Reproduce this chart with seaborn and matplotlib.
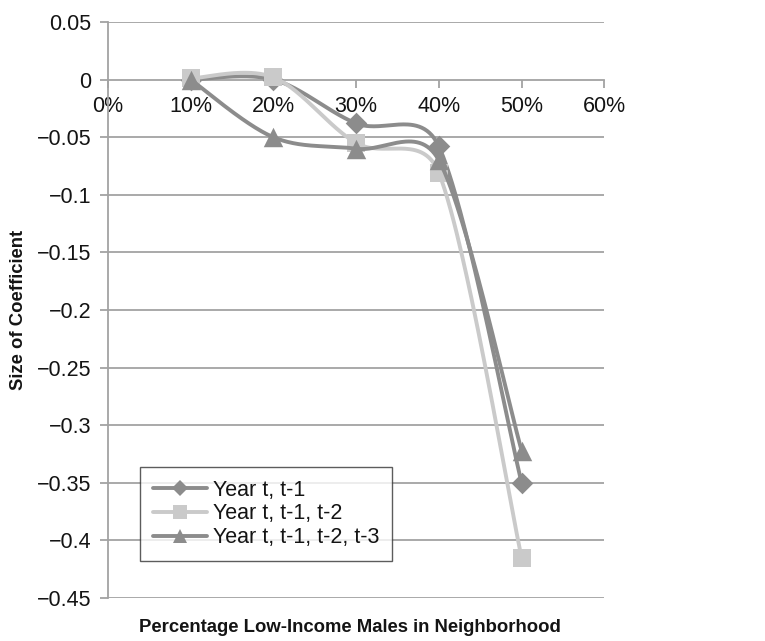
import numpy as np
import pandas as pd
import matplotlib
matplotlib.use("Agg")
import matplotlib.pyplot as plt
from matplotlib.lines import Line2D
from matplotlib.ticker import FuncFormatter
import seaborn as sns

# Share of low-income males in the neighbourhood
pct = [0.10, 0.20, 0.30, 0.40, 0.50]
# Coefficient estimates per lag specification
year_t1 = [0.000, 0.000, -0.038, -0.058, -0.350]
year_t12 = [0.001, 0.002, -0.055, -0.081, -0.415]
year_t123 = [0.000, -0.050, -0.060, -0.070, -0.322]
series_names = ["Year t, t-1", "Year t, t-1, t-2", "Year t, t-1, t-2, t-3"]
x_ticks = [0.0, 0.1, 0.2, 0.3, 0.4, 0.5, 0.6]
y_ticks = [0.05, 0.0, -0.05, -0.1, -0.15, -0.2, -0.25, -0.3, -0.35, -0.4, -0.45]

DARK = "#8c8c8c"
LIGHT = "#cacaca"
GRID = "#a3a3a3"
TEXT = "#141414"

XLIM = (0.0, 0.6)
YLIM = (-0.45, 0.05)


def smooth(xs, ys, kx, ky, n=60):
    """Spreadsheet-style smoothed line, built in screen units.

    Each segment is a cubic Bezier whose control arms are one sixth of the
    neighbour chord, capped at half the segment length.
    """
    P = np.column_stack([np.asarray(xs, float) * kx, np.asarray(ys, float) * ky])
    t = np.linspace(0, 1, n)[:, None]
    out = []
    m = len(P)
    for i in range(m - 1):
        p0 = P[i - 1] if i > 0 else P[i]
        p1, p2 = P[i], P[i + 1]
        p3 = P[i + 2] if i + 2 < m else P[i + 1]
        half = np.linalg.norm(p2 - p1) / 2.0
        a = (p2 - p0) / 6.0
        b = (p3 - p1) / 6.0
        if np.linalg.norm(a) > half:
            a = a * half / np.linalg.norm(a)
        if np.linalg.norm(b) > half:
            b = b * half / np.linalg.norm(b)
        c1 = p1 + a
        c2 = p2 - b
        seg = ((1 - t) ** 3) * p1 + 3 * ((1 - t) ** 2) * t * c1 \
            + 3 * (1 - t) * t ** 2 * c2 + t ** 3 * p2
        out.append(seg if i == 0 else seg[1:])
    seg = np.vstack(out)
    return seg[:, 0] / kx, seg[:, 1] / ky


sns.set_theme(style="white")
plt.rcParams["font.family"] = ["Liberation Sans", "DejaVu Sans"]

FIG_W, FIG_H, DPI = 7.65, 6.41, 100
fig = plt.figure(figsize=(FIG_W, FIG_H), dpi=DPI)
pos = [0.141, 0.067, 0.649, 0.8987]
ax = fig.add_axes(pos)

# screen pixels per data unit on each axis
kx = FIG_W * DPI * pos[2] / (XLIM[1] - XLIM[0])
ky = FIG_H * DPI * pos[3] / (YLIM[1] - YLIM[0])

styles = [
    (year_t1, DARK, "D", 11, 2),
    (year_t12, LIGHT, "s", 12.5, 3),
    (year_t123, DARK, "^", 14, 4),
]
handles = []
for (vals, color, marker, ms, z), name in zip(styles, series_names):
    sx, sy = smooth(pct, vals, kx, ky)
    sns.lineplot(x=sx, y=sy, ax=ax, color=color, linewidth=2.8, sort=False,
                 estimator=None, zorder=z)
    df = pd.DataFrame({"x": pct, "y": vals})
    sns.scatterplot(data=df, x="x", y="y", ax=ax, color=color, marker=marker,
                    s=ms ** 2, linewidth=0, zorder=z + 0.5)
    handles.append(Line2D([0], [0], color=color, linewidth=2.8, marker=marker,
                          markersize=ms * 0.75, markeredgewidth=0, label=name))

ax.set_xlim(*XLIM)
ax.set_ylim(*YLIM)
ax.set_xticks(x_ticks)
ax.set_yticks(y_ticks)
ax.xaxis.set_major_formatter(FuncFormatter(lambda v, p: f"{v * 100:.0f}%"))
ax.yaxis.set_major_formatter(
    FuncFormatter(lambda v, p: ("%g" % round(v, 2)).replace("-", "\u2212")))

for yv in y_ticks:
    if yv != 0.0:
        ax.axhline(yv, color=GRID, linewidth=1.3, zorder=0)

for side in ["top", "right"]:
    ax.spines[side].set_visible(False)
ax.spines["bottom"].set_position(("data", 0))
for side in ["bottom", "left"]:
    ax.spines[side].set_color(GRID)
    ax.spines[side].set_linewidth(1.3)
ax.spines["bottom"].set_zorder(0.5)

ax.tick_params(axis="x", direction="out", length=6, width=1.3, color=GRID,
               labelsize=15.5, pad=6, bottom=True)
ax.tick_params(axis="y", direction="out", length=6, width=1.3, color=GRID,
               labelsize=15.5, pad=6, left=True)
for lab in ax.get_xticklabels() + ax.get_yticklabels():
    lab.set_color(TEXT)

ax.set_xlabel("")
ax.set_ylabel("")
fig.text(0.4575, 0.021, "Percentage Low-Income Males in Neighborhood",
         ha="center", va="center", fontsize=13.3, fontweight="bold", color=TEXT)
fig.text(0.024, 0.516, "Size of Coefficient", ha="center", va="center",
         rotation=90, fontsize=13.3, fontweight="bold", color=TEXT)

leg = ax.legend(handles=handles, loc="upper left", bbox_to_anchor=(0.0645, 0.2275),
                frameon=True, fancybox=False, fontsize=15.5, handlelength=2.5,
                borderpad=0.6, labelspacing=0.12, handletextpad=0.3,
                borderaxespad=0)
leg.get_frame().set_edgecolor("#333333")
leg.get_frame().set_linewidth(1.0)
for txt in leg.get_texts():
    txt.set_color(TEXT)
leg.set_zorder(10)

fig.savefig("out.png", dpi=DPI, facecolor="white")
